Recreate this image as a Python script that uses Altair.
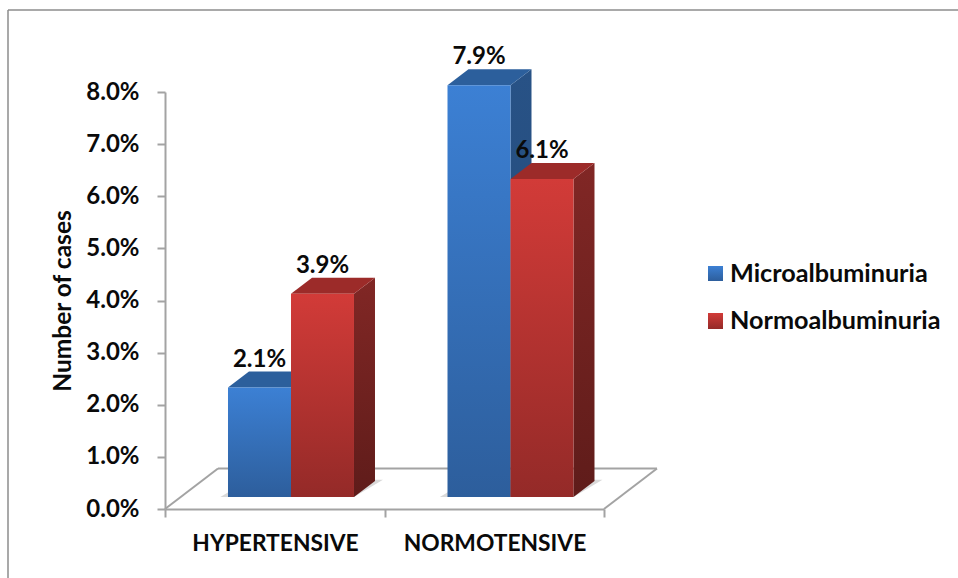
import altair as alt

# Survey values, in percent
categories = ["HYPERTENSIVE", "NORMOTENSIVE"]
microalbuminuria = [2.1, 7.9]
normoalbuminuria = [3.9, 6.1]
y_ticks = [0, 1, 2, 3, 4, 5, 6, 7, 8]
legend_names = ["Microalbuminuria", "Normoalbuminuria"]

FONT = "Lato"
INK = "#0a0a0a"
AXIS_GREY = "#a3a3a3"
FRAME_GREY = "#8c8c8c"

# Projection of the 3D look, in axis units: x runs 0..2 over the two
# categories, y is the percent scale.
BAR_START = 0.287
BAR_W = 0.287
FRONT_LIFT = 0.23      # the bars' front plane sits this far up the floor
BAR_DX, BAR_DY = 0.0957, 0.307
FLOOR_DX, FLOOR_DY = 0.2415, 0.777

PLOT_W, PLOT_H = 439, 417
LEFT, TOP = 165, 92
CANVAS_W, CANVAS_H = 958, 578


def gradient(top, bottom):
    return alt.Gradient(
        gradient="linear",
        stops=[alt.GradientStop(color=top, offset=0), alt.GradientStop(color=bottom, offset=1)],
        x1=0, x2=0, y1=0, y2=1,
    )


def slanted(x0, x1, v, dx, dy, key):
    """Parallelogram with horizontal edges, as area rows."""
    return [
        {"k": key, "x": x0, "lo": v, "hi": v},
        {"k": key, "x": x0 + dx, "lo": v, "hi": v + dy},
        {"k": key, "x": x1, "lo": v, "hi": v + dy},
        {"k": key, "x": x1 + dx, "lo": v + dy, "hi": v + dy},
    ]


x_scale = alt.Scale(domain=[0, 2], nice=False, zero=False)
y_scale = alt.Scale(domain=[0, 8], nice=False, zero=False)
X = alt.X("x:Q", scale=x_scale)
Y = alt.Y("lo:Q", scale=y_scale)


def area(rows, color):
    return alt.Chart(alt.Data(values=rows)).mark_area(color=color, orient="vertical").encode(
        x=X, y=Y, y2="hi:Q", detail="k:N"
    )


def series_layers(values, slot, front, top, side):
    fronts, tops, sides = [], [], []
    for i, v in enumerate(values):
        x0 = i + BAR_START + slot * BAR_W
        x1 = x0 + BAR_W
        h = v + FRONT_LIFT
        fronts.append({"x": x0, "x2": x1, "lo": FRONT_LIFT, "hi": h})
        tops += slanted(x0, x1, h, BAR_DX, BAR_DY, i)
        sides += [
            {"k": i, "x": x1, "lo": FRONT_LIFT, "hi": h},
            {"k": i, "x": x1 + BAR_DX, "lo": FRONT_LIFT + BAR_DY, "hi": h + BAR_DY},
        ]
    front_mark = alt.Chart(alt.Data(values=fronts)).mark_rect(color=front).encode(
        x=X, x2="x2:Q", y=Y, y2="hi:Q"
    )
    return [area(sides, side), area(tops, top), front_mark]


def bar_labels(values, slot):
    rows = [
        {
            "x": i + BAR_START + (slot + 0.5) * BAR_W,
            "lo": v + FRONT_LIFT + BAR_DY,
            "t": f"{v:.1f}%",
        }
        for i, v in enumerate(values)
    ]
    return alt.Chart(alt.Data(values=rows)).mark_text(
        font=FONT, fontWeight="bold", fontSize=24, color=INK, dy=-12, baseline="middle"
    ).encode(x=X, y=Y, text="t:N")


# Axes and the floor outline
axes = alt.Chart(alt.Data(values=[{"x": 0, "lo": 0}])).mark_point(opacity=0).encode(
    x=alt.X(
        "x:Q", scale=x_scale, title=None,
        axis=alt.Axis(
            values=[0, 1, 2], grid=False, domainColor=AXIS_GREY, domainWidth=2,
            tickColor=AXIS_GREY, tickWidth=2, tickSize=8, labelOffset=110, labelPadding=15,
            labelFont=FONT, labelFontWeight="bold", labelFontSize=22.8, labelColor=INK,
            labelAlign="center", labelFlush=False, labelOverlap=False, labelLimit=400,
            labelExpr=f"datum.value == 0 ? '{categories[0]}' : datum.value == 1 ? '{categories[1]}' : ''",
        ),
    ),
    y=alt.Y(
        "lo:Q", scale=y_scale, title="Number of cases",
        axis=alt.Axis(
            values=y_ticks, grid=False, domainColor=AXIS_GREY, domainWidth=2,
            tickColor=AXIS_GREY, tickWidth=2, tickSize=8, labelPadding=18,
            labelFont=FONT, labelFontWeight="bold", labelFontSize=24, labelColor=INK,
            labelExpr="format(datum.value, '.1f') + '%'",
            titleFont=FONT, titleFontWeight="bold", titleFontSize=24.5, titleColor=INK,
            titlePadding=10,
        ),
    ),
)

floor_edges = [
    {"k": "left", "x": 0, "lo": 0},
    {"k": "left", "x": FLOOR_DX, "lo": FLOOR_DY},
    {"k": "back", "x": FLOOR_DX, "lo": FLOOR_DY},
    {"k": "back", "x": 2 + FLOOR_DX, "lo": FLOOR_DY},
    {"k": "right", "x": 2 + FLOOR_DX, "lo": FLOOR_DY},
    {"k": "right", "x": 2, "lo": 0},
]
floor = alt.Chart(alt.Data(values=floor_edges)).mark_line(color=AXIS_GREY, strokeWidth=2).encode(
    x=X, y=Y, detail="k:N"
)

# Soft contact shadows on the floor
shadow_rows = []
for i in range(2):
    x0 = i + BAR_START - 0.035
    x1 = i + BAR_START + 2 * BAR_W
    shadow_rows += slanted(x0, x1, FRONT_LIFT, 0.132, 0.33, i)
shadow = area(shadow_rows, "#d9d9d9")

# Hand-built legend with the same gradient swatches as the bars
BLUE_FRONT = gradient("#3c80d4", "#2d5e9c")
RED_FRONT = gradient("#d23b38", "#942a28")
SWATCHES = [(gradient("#3c80d4", "#2d5e9c"), 266, 281), (gradient("#d23b38", "#942a28"), 313, 329)]
one_row = alt.Data(values=[{"a": 1}])
legend_layers = []
for name, (fill, y0, y1) in zip(legend_names, SWATCHES):
    legend_layers.append(
        alt.Chart(one_row).mark_rect(color=fill).encode(
            x=alt.value(708 - LEFT), x2=alt.value(723 - LEFT),
            y=alt.value(y0 - TOP), y2=alt.value(y1 - TOP),
        )
    )
    legend_layers.append(
        alt.Chart(one_row).mark_text(
            font=FONT, fontWeight="bold", fontSize=25.2, color=INK, align="left", baseline="middle"
        ).encode(
            x=alt.value(730 - LEFT), y=alt.value((y0 + y1) / 2 - TOP), text=alt.value(name)
        )
    )

# Outer frame: only the top and left edges stay inside the canvas
frame_top = alt.Chart(one_row).mark_rule(color=FRAME_GREY, strokeWidth=1.5).encode(
    x=alt.value(8 - LEFT), x2=alt.value(CANVAS_W - LEFT), y=alt.value(10 - TOP)
)
frame_left = alt.Chart(one_row).mark_rule(color=FRAME_GREY, strokeWidth=1.5).encode(
    x=alt.value(8 - LEFT), y=alt.value(10 - TOP), y2=alt.value(CANVAS_H - TOP)
)

layers = [frame_top, frame_left, axes, floor, shadow]
layers += series_layers(microalbuminuria, 0, BLUE_FRONT, "#2c5f9c", gradient("#285286", "#234a78"))
layers += series_layers(normoalbuminuria, 1, RED_FRONT, "#9c2b29", gradient("#812725", "#5f1c1a"))
layers += [bar_labels(microalbuminuria, 0), bar_labels(normoalbuminuria, 1)]
layers += legend_layers

chart = alt.layer(*layers).properties(
    width=PLOT_W,
    height=PLOT_H,
    padding={"left": LEFT, "top": TOP, "right": CANVAS_W - LEFT - PLOT_W, "bottom": CANVAS_H - TOP - PLOT_H},
    autosize=alt.AutoSizeParams(type="none"),
    background="white",
).configure_view(stroke=None)

chart.save("out.html", embed_options={"renderer": "svg", "actions": False})
